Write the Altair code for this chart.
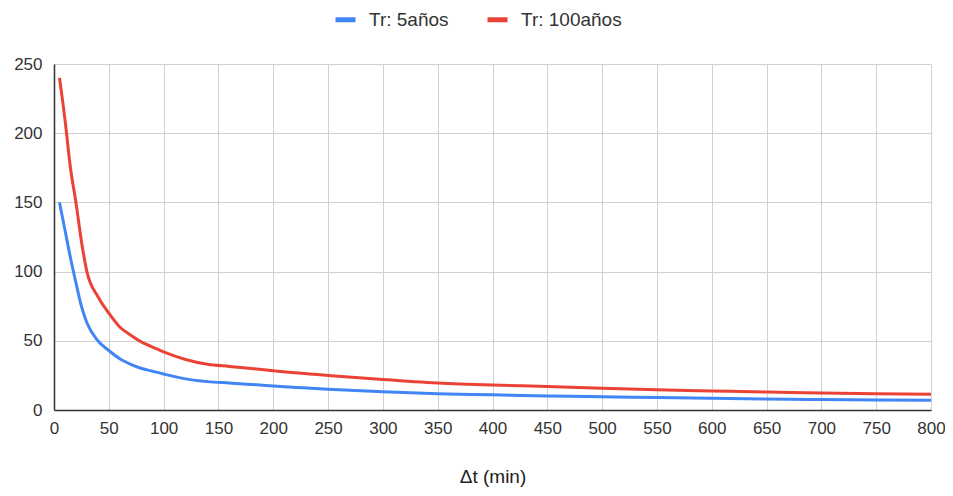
import altair as alt
import pandas as pd

dt = [5, 10, 15, 20, 25, 30, 40, 50, 60, 70, 80, 90, 100, 120, 140, 160, 180, 200,
      250, 300, 350, 400, 450, 500, 550, 600, 650, 700, 750, 800]
tr5 = [150, 130, 110, 92, 75, 63, 50, 43, 37, 33, 30, 28, 26, 22.5, 20.5, 19.5, 18.5, 17.3,
       15, 13.2, 11.8, 11, 10.2, 9.5, 9, 8.4, 7.9, 7.5, 7.2, 7.0]
tr100 = [240, 210, 175, 150, 122, 100, 82, 70, 60, 54, 49, 45.5, 42, 36.5, 33, 31.5, 30, 28.4,
         25, 22, 19.5, 18, 17, 15.7, 14.6, 13.8, 13, 12.3, 11.8, 11.3]
series = ["Tr: 5años", "Tr: 100años"]
colors = ["#4285F4", "#EA4335"]
x_ticks = list(range(0, 801, 50))
y_ticks = list(range(0, 251, 50))

rows = []
for name, vals in zip(series, [tr5, tr100]):
    for x, y in zip(dt, vals):
        rows.append({"dt": x, "v": y, "serie": name})
df = pd.DataFrame(rows)

FONT = "Liberation Sans"

chart = alt.Chart(df).mark_line(strokeWidth=3, interpolate="monotone").encode(
    x=alt.X("dt:Q", title="Δt (min)",
            scale=alt.Scale(domain=[0, 800], nice=False),
            axis=alt.Axis(values=x_ticks, ticks=False, labelPadding=10, titlePadding=31,
                          labelFont=FONT, labelFontSize=17, labelColor="#333",
                          titleFont=FONT, titleFontSize=19, titleFontWeight="normal",
                          titleColor="#222", domainColor="#333", domainWidth=1.5,
                          gridColor="#d0d0d0", labelFlush=False)),
    y=alt.Y("v:Q", title=None,
            scale=alt.Scale(domain=[0, 250], nice=False),
            axis=alt.Axis(values=y_ticks, ticks=False, labelPadding=12,
                          labelFont=FONT, labelFontSize=17, labelColor="#333",
                          domainColor="#333", domainWidth=1.5, gridColor="#d0d0d0")),
    color=alt.Color("serie:N", sort=series,
                    scale=alt.Scale(domain=series, range=colors),
                    legend=alt.Legend(title=None, orient="none", direction="horizontal",
                                      legendX=279, legendY=-57,
                                      symbolType="stroke", symbolStrokeWidth=5, symbolSize=400,
                                      labelFont=FONT, labelFontSize=19, labelColor="#333",
                                      columnPadding=28, symbolOffset=0, labelOffset=11)),
).properties(
    width=877, height=346,
    padding={"left": 46, "top": 56, "right": 14, "bottom": 82},
    autosize=alt.AutoSizeParams(type="none"),
).configure_view(stroke=None)

chart.save("out.html", embed_options={"renderer": "svg", "actions": False})
